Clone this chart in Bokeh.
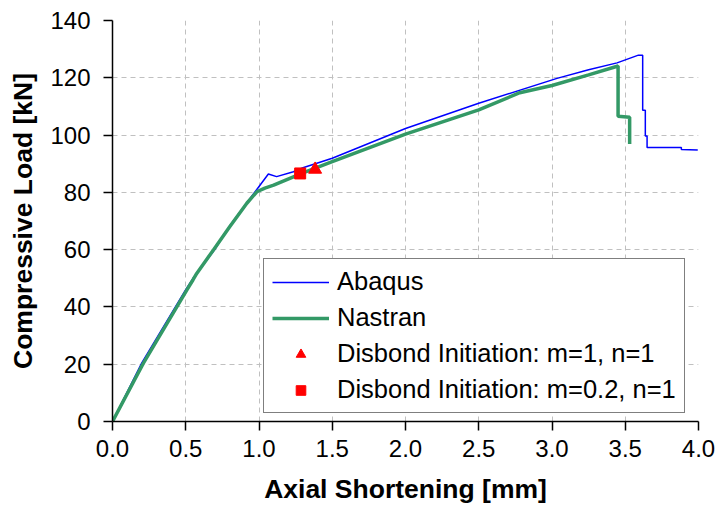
from bokeh.plotting import figure
from bokeh.models import Range1d, FixedTicker, PrintfTickFormatter, Legend, LegendItem
from bokeh.embed import file_html
from bokeh.resources import INLINE

# ---- data ----
abaqus_x = [0, 0.2, 0.5, 0.55, 0.7, 0.8, 0.92, 0.985, 1.064, 1.12, 1.235, 1.3, 1.5, 2.0,
            2.5, 3.034, 3.25, 3.444, 3.59, 3.619, 3.619, 3.637, 3.637, 3.649, 3.649,
            3.883, 3.883, 3.995]
abaqus_y = [0, 20.5, 46, 50, 60.2, 68.3, 76.6, 81, 86.4, 85.5, 87.2, 88.6, 91.9, 102.3,
            111.1, 119.8, 122.8, 125.2, 127.9, 127.9, 108.7, 108.7, 99.7, 99.7, 95.7,
            95.7, 95.0, 94.8]

nastran_x = [0, 0.21, 0.507, 0.55, 0.575, 0.689, 0.80, 0.917, 0.985, 1.04, 1.10, 1.235,
             1.3, 1.5, 2.0, 2.5, 2.78, 3.0, 3.25, 3.451, 3.451, 3.530, 3.530]
nastran_y = [0, 20.3, 45.9, 49.5, 51.7, 59.9, 68.0, 76.2, 80.2, 81.5, 82.5, 85.4,
             86.8, 90.7, 100.3, 108.8, 114.8, 117.3, 121.0, 124.1, 106.6, 106.2, 96.9]

tri_x = [1.383]
tri_y = [88.0]
sq_x = [1.281]
sq_y = [86.6]

x_ticks = [0.0, 0.5, 1.0, 1.5, 2.0, 2.5, 3.0, 3.5, 4.0]
y_ticks = [0, 20, 40, 60, 80, 100, 120, 140]

FONT = "Liberation Sans"

p = figure(width=718, height=515, output_backend="svg", toolbar_location=None,
           x_range=Range1d(0, 4), y_range=Range1d(0, 140),
           min_border_left=112, min_border_right=20, min_border_top=20,
           min_border_bottom=94)
p.outline_line_color = None
p.background_fill_color = "white"
p.border_fill_color = "white"

for ax in (p.xaxis[0], p.yaxis[0]):
    ax.axis_line_color = "black"
    ax.axis_line_width = 1.5
    ax.major_tick_line_color = "black"
    ax.major_tick_line_width = 1.5
    ax.major_tick_in = 0
    ax.major_tick_out = 9
    ax.minor_tick_line_color = None
    ax.major_label_text_font = FONT
    ax.major_label_text_font_size = "24px"
    ax.major_label_text_color = "black"
    ax.axis_label_text_font = FONT
    ax.axis_label_text_font_size = "26.5px"
    ax.axis_label_text_font_style = "bold"
    ax.axis_label_text_color = "black"

p.xaxis.ticker = FixedTicker(ticks=x_ticks)
p.xaxis.formatter = PrintfTickFormatter(format="%.1f")
p.yaxis.ticker = FixedTicker(ticks=y_ticks)
p.xaxis.axis_label = "Axial Shortening [mm]"
p.yaxis.axis_label = "Compressive Load [kN]"
p.xaxis.major_label_standoff = 9
p.xaxis.axis_label_standoff = 14
p.yaxis.major_label_standoff = 13
p.yaxis.axis_label_standoff = 9

for g in (p.xgrid[0], p.ygrid[0]):
    g.grid_line_color = "#c0c0c0"
    g.grid_line_width = 1
    g.grid_line_dash = "5 4"

r_ab = p.line(abaqus_x, abaqus_y, line_color="#0000ff", line_width=1.5)
r_na = p.line(nastran_x, nastran_y, line_color="#339966", line_width=3.5)
r_tri = p.scatter(tri_x, tri_y, marker="triangle", size=13, fill_color="#ff0000",
                  line_color="#ff0000")
r_sq = p.scatter(sq_x, sq_y, marker="square", size=11, fill_color="#ff0000",
                 line_color="#ff0000")

legend = Legend(items=[
    LegendItem(label="Abaqus", renderers=[r_ab]),
    LegendItem(label="Nastran", renderers=[r_na]),
    LegendItem(label="Disbond Initiation: m=1, n=1", renderers=[r_tri]),
    LegendItem(label="Disbond Initiation: m=0.2, n=1", renderers=[r_sq]),
], location=(151, 8))
legend.label_text_font = FONT
legend.label_text_font_size = "25.5px"
legend.label_text_color = "black"
legend.glyph_width = 57
legend.glyph_height = 24
legend.label_height = 24
legend.label_standoff = 8
legend.spacing = 7
legend.padding = 8
legend.margin = 0
legend.border_line_color = "black"
legend.border_line_width = 1.5
legend.background_fill_color = "white"
legend.background_fill_alpha = 1.0
p.add_layout(legend, "center")

open("out.html", "w").write(file_html(p, INLINE))
